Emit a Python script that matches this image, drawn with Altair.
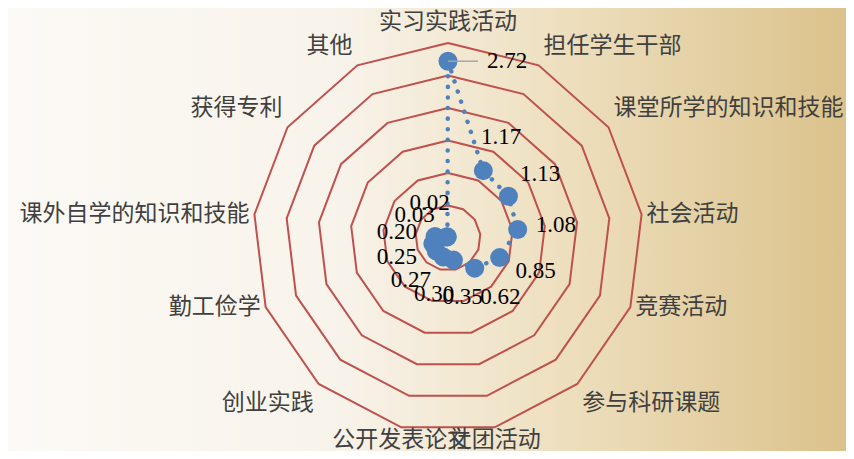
import math
import altair as alt
import pandas as pd

# ---------------- data ----------------
categories = ["实习实践活动", "担任学生干部", "课堂所学的知识和技能", "社会活动", "竞赛活动",
              "参与科研课题", "社团活动", "公开发表论文", "创业实践", "勤工俭学",
              "课外自学的知识和技能", "获得专利", "其他"]
values = [2.72, 1.17, 1.13, 1.08, 0.85, 0.62, 0.35, 0.30, 0.27, 0.25, 0.20, 0.03, 0.02]
value_labels = ["2.72", "1.17", "1.13", "1.08", "0.85", "0.62", "0.35", "0.30",
                "0.27", "0.25", "0.20", "0.03", "0.02"]
ring_levels = [0.5, 1.0, 1.5, 2.0, 2.5, 3.0]

# ---------------- layout ----------------
W, H = 838, 443
CX, CY = 440, 230          # centre of the radar, px
PPU = 65                   # pixels per data unit
R_MAX = max(ring_levels)
n = len(categories)

BLUE = "#4F81BD"
RED = "#C0504D"


def ang(i):
    return 2 * math.pi * i / n


xs = alt.Scale(domain=[-CX / PPU, (W - CX) / PPU], nice=False, zero=False)
ys = alt.Scale(domain=[-(H - CY) / PPU, CY / PPU], nice=False, zero=False)
X = lambda f="x": alt.X(f"{f}:Q", scale=xs, axis=None)
Y = lambda f="y": alt.Y(f"{f}:Q", scale=ys, axis=None)

# background gradient
bg = alt.Chart(pd.DataFrame({"a": [0]})).mark_rect(
    fill=alt.LinearGradient(
        gradient="linear",
        stops=[alt.GradientStop(color="#FCFAF6", offset=0),
               alt.GradientStop(color="#F8F3EA", offset=0.4),
               alt.GradientStop(color="#EEE0C0", offset=0.65),
               alt.GradientStop(color="#DBC28B", offset=1)],
        x1=0, x2=1, y1=0, y2=0),
    strokeWidth=0,
).encode(x=alt.value(0), x2=alt.value(W), y=alt.value(0), y2=alt.value(H))

# rings
ring_rows = []
for lv in ring_levels:
    for k in range(n + 1):
        a = ang(k % n)
        ring_rows.append({"lv": lv, "k": k, "x": lv * math.sin(a), "y": lv * math.cos(a)})
rings = alt.Chart(pd.DataFrame(ring_rows)).mark_line(
    color=RED, strokeWidth=2
).encode(x=X(), y=Y(), detail="lv:N", order="k:Q")

# series
pts = []
for i, (c, v, lab) in enumerate(zip(categories, values, value_labels)):
    a = ang(i)
    rl = v + 38.5 / PPU
    pts.append({"i": i, "cat": c, "v": v, "lab": lab,
                "x": v * math.sin(a), "y": v * math.cos(a),
                "lx": rl * math.sin(a), "ly": rl * math.cos(a),
                "x2": v * math.sin(a) + 30 / PPU,
                "tx": v * math.sin(a) + 39 / PPU})
df = pd.DataFrame(pts)
df_closed = pd.concat([df, df.iloc[[0]].assign(i=n)], ignore_index=True)

line = alt.Chart(df_closed).mark_line(
    color=BLUE, strokeWidth=4.5, strokeCap="round", strokeDash=[0.1, 10.5]
).encode(x=X(), y=Y(), order="i:Q")

points = alt.Chart(df).mark_circle(size=360, color=BLUE, opacity=1).encode(x=X(), y=Y())

top_i = max(range(n), key=lambda j: values[j])
df_top = df[df["i"] == top_i]
df_rest = df[df["i"] != top_i]

leader = alt.Chart(df_top).mark_rule(color="#A6A6A6", strokeWidth=1.5).encode(
    x=X(), x2="x2:Q", y=Y())
top_label = alt.Chart(df_top).mark_text(
    align="left", baseline="middle", font="Liberation Serif", fontSize=23, color="#000000"
).encode(x=X("tx"), y=Y(), text="lab:N")

val_labels = alt.Chart(df_rest).mark_text(
    align="center", baseline="middle", font="Liberation Serif", fontSize=23, color="#000000"
).encode(x=X("lx"), y=Y("ly"), text="lab:N")

# category labels
cat_rows = []
for i, c in enumerate(categories):
    a = ang(i)
    s, co = math.sin(a), math.cos(a)
    vx, vy = R_MAX * s, R_MAX * co
    if abs(s) < 0.3:
        al = "center"
        dxp = 0
        dyp = -21 if co > 0 else 13
    else:
        al = "left" if s > 0 else "right"
        dxp = 5 if s > 0 else -5
        dyp = -19 if co > 0.5 else (19 if co < -0.5 else 0)
    cat_rows.append({"cat": c, "al": al,
                     "x": vx + dxp / PPU, "y": vy - dyp / PPU})
cdf = pd.DataFrame(cat_rows)

cat_layers = []
for al in ["left", "right", "center"]:
    cat_layers.append(
        alt.Chart(cdf[cdf["al"] == al]).mark_text(
            align=al, baseline="middle", font="Noto Sans CJK SC", fontSize=23, color="#404040"
        ).encode(x=X(), y=Y(), text="cat:N")
    )

chart = alt.layer(
    bg, rings, line, points, leader, top_label, val_labels, *cat_layers
).properties(
    width=W, height=H, padding=0,
    autosize=alt.AutoSizeParams(type="none"),
).configure_view(stroke=None)

chart.save("out.html", embed_options={"renderer": "svg", "actions": False})
